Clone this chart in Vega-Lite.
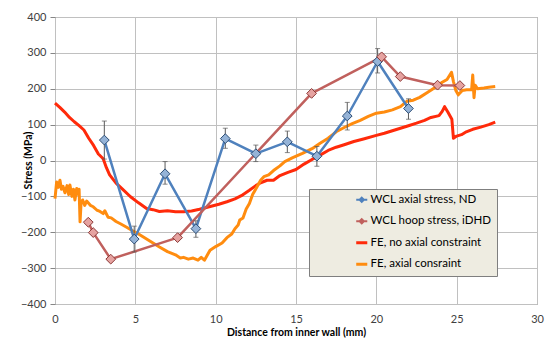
{
  "$schema": "https://vega.github.io/schema/vega-lite/v6.json",
  "width": 482,
  "height": 287,
  "autosize": {"type": "none"},
  "padding": {"left": 55, "top": 17, "right": 11, "bottom": 37},
  "background": "white",
  "config": {
    "font": "Lato",
    "view": {"stroke": "#868686", "strokeWidth": 1},
    "axis": {
      "labelFont": "Lato",
      "labelFontSize": 11,
      "labelColor": "#404040",
      "titleFont": "Lato",
      "titleFontSize": 10.5,
      "titleFontWeight": "bold",
      "titleColor": "#000000",
      "gridColor": "#c0c0c0",
      "gridWidth": 1,
      "domain": false,
      "tickColor": "#868686"
    }
  },
  "datasets": {
    "fe": [
      {"series": "FE, no axial constraint", "x": 0, "y": 160},
      {"series": "FE, no axial constraint", "x": 0.3, "y": 148},
      {"series": "FE, no axial constraint", "x": 0.6, "y": 135},
      {"series": "FE, no axial constraint", "x": 0.9, "y": 120},
      {"series": "FE, no axial constraint", "x": 1.2, "y": 108},
      {"series": "FE, no axial constraint", "x": 1.5, "y": 97},
      {"series": "FE, no axial constraint", "x": 1.8, "y": 85},
      {"series": "FE, no axial constraint", "x": 2.1, "y": 62},
      {"series": "FE, no axial constraint", "x": 2.4, "y": 42},
      {"series": "FE, no axial constraint", "x": 2.7, "y": 18},
      {"series": "FE, no axial constraint", "x": 3.0, "y": 5},
      {"series": "FE, no axial constraint", "x": 3.2, "y": -20},
      {"series": "FE, no axial constraint", "x": 3.4, "y": -40},
      {"series": "FE, no axial constraint", "x": 3.8, "y": -63},
      {"series": "FE, no axial constraint", "x": 4.2, "y": -80},
      {"series": "FE, no axial constraint", "x": 4.7, "y": -101},
      {"series": "FE, no axial constraint", "x": 5.2, "y": -118},
      {"series": "FE, no axial constraint", "x": 5.7, "y": -134},
      {"series": "FE, no axial constraint", "x": 6.1, "y": -137},
      {"series": "FE, no axial constraint", "x": 6.5, "y": -142},
      {"series": "FE, no axial constraint", "x": 7.0, "y": -140},
      {"series": "FE, no axial constraint", "x": 7.5, "y": -143},
      {"series": "FE, no axial constraint", "x": 8.0, "y": -143},
      {"series": "FE, no axial constraint", "x": 8.5, "y": -141},
      {"series": "FE, no axial constraint", "x": 9.0, "y": -136},
      {"series": "FE, no axial constraint", "x": 9.6, "y": -129},
      {"series": "FE, no axial constraint", "x": 10.2, "y": -122},
      {"series": "FE, no axial constraint", "x": 10.7, "y": -115},
      {"series": "FE, no axial constraint", "x": 11.2, "y": -107},
      {"series": "FE, no axial constraint", "x": 11.6, "y": -98},
      {"series": "FE, no axial constraint", "x": 12.1, "y": -83},
      {"series": "FE, no axial constraint", "x": 12.5, "y": -70},
      {"series": "FE, no axial constraint", "x": 12.8, "y": -62},
      {"series": "FE, no axial constraint", "x": 13.2, "y": -55},
      {"series": "FE, no axial constraint", "x": 13.6, "y": -55},
      {"series": "FE, no axial constraint", "x": 14.0, "y": -42},
      {"series": "FE, no axial constraint", "x": 14.5, "y": -33},
      {"series": "FE, no axial constraint", "x": 15.0, "y": -25},
      {"series": "FE, no axial constraint", "x": 15.5, "y": -10},
      {"series": "FE, no axial constraint", "x": 16.0, "y": 3},
      {"series": "FE, no axial constraint", "x": 16.5, "y": 15},
      {"series": "FE, no axial constraint", "x": 17.0, "y": 28},
      {"series": "FE, no axial constraint", "x": 17.5, "y": 37},
      {"series": "FE, no axial constraint", "x": 18.0, "y": 44},
      {"series": "FE, no axial constraint", "x": 18.6, "y": 53},
      {"series": "FE, no axial constraint", "x": 19.2, "y": 60},
      {"series": "FE, no axial constraint", "x": 20.0, "y": 70},
      {"series": "FE, no axial constraint", "x": 20.5, "y": 76},
      {"series": "FE, no axial constraint", "x": 21.0, "y": 83},
      {"series": "FE, no axial constraint", "x": 21.5, "y": 90},
      {"series": "FE, no axial constraint", "x": 22.0, "y": 97},
      {"series": "FE, no axial constraint", "x": 22.5, "y": 104},
      {"series": "FE, no axial constraint", "x": 23.0, "y": 112},
      {"series": "FE, no axial constraint", "x": 23.4, "y": 120},
      {"series": "FE, no axial constraint", "x": 23.9, "y": 125},
      {"series": "FE, no axial constraint", "x": 24.1, "y": 137},
      {"series": "FE, no axial constraint", "x": 24.25, "y": 150},
      {"series": "FE, no axial constraint", "x": 24.45, "y": 135},
      {"series": "FE, no axial constraint", "x": 24.7, "y": 115},
      {"series": "FE, no axial constraint", "x": 24.8, "y": 62},
      {"series": "FE, no axial constraint", "x": 25.0, "y": 68},
      {"series": "FE, no axial constraint", "x": 25.3, "y": 72},
      {"series": "FE, no axial constraint", "x": 25.6, "y": 80},
      {"series": "FE, no axial constraint", "x": 26.0, "y": 87},
      {"series": "FE, no axial constraint", "x": 26.5, "y": 93},
      {"series": "FE, no axial constraint", "x": 27.0, "y": 100},
      {"series": "FE, no axial constraint", "x": 27.4, "y": 107},
      {"series": "FE, axial consraint", "x": 0, "y": -106},
      {"series": "FE, axial consraint", "x": 0.1, "y": -60},
      {"series": "FE, axial consraint", "x": 0.2, "y": -75},
      {"series": "FE, axial consraint", "x": 0.31, "y": -55},
      {"series": "FE, axial consraint", "x": 0.4, "y": -80},
      {"series": "FE, axial consraint", "x": 0.5, "y": -72},
      {"series": "FE, axial consraint", "x": 0.62, "y": -90},
      {"series": "FE, axial consraint", "x": 0.75, "y": -70},
      {"series": "FE, axial consraint", "x": 0.85, "y": -95},
      {"series": "FE, axial consraint", "x": 0.93, "y": -68},
      {"series": "FE, axial consraint", "x": 1.05, "y": -100},
      {"series": "FE, axial consraint", "x": 1.15, "y": -80},
      {"series": "FE, axial consraint", "x": 1.24, "y": -110},
      {"series": "FE, axial consraint", "x": 1.35, "y": -78},
      {"series": "FE, axial consraint", "x": 1.45, "y": -95},
      {"series": "FE, axial consraint", "x": 1.5, "y": -80},
      {"series": "FE, axial consraint", "x": 1.56, "y": -171},
      {"series": "FE, axial consraint", "x": 1.62, "y": -120},
      {"series": "FE, axial consraint", "x": 1.72, "y": -110},
      {"series": "FE, axial consraint", "x": 1.85, "y": -125},
      {"series": "FE, axial consraint", "x": 1.97, "y": -113},
      {"series": "FE, axial consraint", "x": 2.2, "y": -125},
      {"series": "FE, axial consraint", "x": 2.38, "y": -129},
      {"series": "FE, axial consraint", "x": 2.6, "y": -138},
      {"series": "FE, axial consraint", "x": 2.8, "y": -142},
      {"series": "FE, axial consraint", "x": 3.0, "y": -148},
      {"series": "FE, axial consraint", "x": 3.1, "y": -140},
      {"series": "FE, axial consraint", "x": 3.3, "y": -158},
      {"series": "FE, axial consraint", "x": 3.5, "y": -160},
      {"series": "FE, axial consraint", "x": 3.8, "y": -170},
      {"series": "FE, axial consraint", "x": 4.1, "y": -177},
      {"series": "FE, axial consraint", "x": 4.46, "y": -186},
      {"series": "FE, axial consraint", "x": 4.8, "y": -195},
      {"series": "FE, axial consraint", "x": 5.1, "y": -202},
      {"series": "FE, axial consraint", "x": 5.5, "y": -213},
      {"series": "FE, axial consraint", "x": 6.0, "y": -227},
      {"series": "FE, axial consraint", "x": 6.5, "y": -241},
      {"series": "FE, axial consraint", "x": 7.0, "y": -254},
      {"series": "FE, axial consraint", "x": 7.5, "y": -263},
      {"series": "FE, axial consraint", "x": 7.8, "y": -272},
      {"series": "FE, axial consraint", "x": 8.0, "y": -270},
      {"series": "FE, axial consraint", "x": 8.3, "y": -275},
      {"series": "FE, axial consraint", "x": 8.6, "y": -272},
      {"series": "FE, axial consraint", "x": 8.9, "y": -278},
      {"series": "FE, axial consraint", "x": 9.1, "y": -270},
      {"series": "FE, axial consraint", "x": 9.3, "y": -278},
      {"series": "FE, axial consraint", "x": 9.5, "y": -262},
      {"series": "FE, axial consraint", "x": 9.65, "y": -250},
      {"series": "FE, axial consraint", "x": 10.0, "y": -240},
      {"series": "FE, axial consraint", "x": 10.4, "y": -230},
      {"series": "FE, axial consraint", "x": 10.7, "y": -215},
      {"series": "FE, axial consraint", "x": 11.0, "y": -205},
      {"series": "FE, axial consraint", "x": 11.2, "y": -190},
      {"series": "FE, axial consraint", "x": 11.4, "y": -180},
      {"series": "FE, axial consraint", "x": 11.5, "y": -166},
      {"series": "FE, axial consraint", "x": 11.7, "y": -160},
      {"series": "FE, axial consraint", "x": 11.9, "y": -135},
      {"series": "FE, axial consraint", "x": 12.1, "y": -120},
      {"series": "FE, axial consraint", "x": 12.3, "y": -95},
      {"series": "FE, axial consraint", "x": 12.55, "y": -75},
      {"series": "FE, axial consraint", "x": 12.8, "y": -55},
      {"series": "FE, axial consraint", "x": 13.0, "y": -45},
      {"series": "FE, axial consraint", "x": 13.3, "y": -40},
      {"series": "FE, axial consraint", "x": 13.6, "y": -28},
      {"series": "FE, axial consraint", "x": 14.0, "y": -15},
      {"series": "FE, axial consraint", "x": 14.3, "y": -3},
      {"series": "FE, axial consraint", "x": 14.8, "y": 8},
      {"series": "FE, axial consraint", "x": 15.4, "y": 20},
      {"series": "FE, axial consraint", "x": 16.0, "y": 33},
      {"series": "FE, axial consraint", "x": 16.5, "y": 48},
      {"series": "FE, axial consraint", "x": 17.0, "y": 62},
      {"series": "FE, axial consraint", "x": 17.5, "y": 80},
      {"series": "FE, axial consraint", "x": 18.0, "y": 92},
      {"series": "FE, axial consraint", "x": 18.5, "y": 103},
      {"series": "FE, axial consraint", "x": 19.0, "y": 112},
      {"series": "FE, axial consraint", "x": 19.5, "y": 123},
      {"series": "FE, axial consraint", "x": 20.0, "y": 132},
      {"series": "FE, axial consraint", "x": 20.5, "y": 135},
      {"series": "FE, axial consraint", "x": 21.0, "y": 141},
      {"series": "FE, axial consraint", "x": 21.5, "y": 150},
      {"series": "FE, axial consraint", "x": 21.9, "y": 165},
      {"series": "FE, axial consraint", "x": 22.3, "y": 168},
      {"series": "FE, axial consraint", "x": 22.7, "y": 176},
      {"series": "FE, axial consraint", "x": 23.2, "y": 190},
      {"series": "FE, axial consraint", "x": 23.75, "y": 206},
      {"series": "FE, axial consraint", "x": 24.1, "y": 218},
      {"series": "FE, axial consraint", "x": 24.4, "y": 226},
      {"series": "FE, axial consraint", "x": 24.68, "y": 246},
      {"series": "FE, axial consraint", "x": 24.8, "y": 220},
      {"series": "FE, axial consraint", "x": 24.95, "y": 195},
      {"series": "FE, axial consraint", "x": 25.1, "y": 183},
      {"series": "FE, axial consraint", "x": 25.35, "y": 195},
      {"series": "FE, axial consraint", "x": 25.62, "y": 197},
      {"series": "FE, axial consraint", "x": 25.93, "y": 197},
      {"series": "FE, axial consraint", "x": 26.0, "y": 238},
      {"series": "FE, axial consraint", "x": 26.08, "y": 175},
      {"series": "FE, axial consraint", "x": 26.15, "y": 210},
      {"series": "FE, axial consraint", "x": 26.3, "y": 200},
      {"series": "FE, axial consraint", "x": 26.7, "y": 202},
      {"series": "FE, axial consraint", "x": 27.0, "y": 204},
      {"series": "FE, axial consraint", "x": 27.4, "y": 206}
    ],
    "wcl": [
      {"series": "WCL axial stress, ND", "x": 3.07, "y": 57, "lo": 4, "hi": 110},
      {"series": "WCL axial stress, ND", "x": 4.93, "y": -219, "lo": -255, "hi": -183},
      {"series": "WCL axial stress, ND", "x": 6.85, "y": -37, "lo": -66, "hi": -3},
      {"series": "WCL axial stress, ND", "x": 8.77, "y": -190, "lo": -214, "hi": -168},
      {"series": "WCL axial stress, ND", "x": 10.6, "y": 61, "lo": 34, "hi": 90},
      {"series": "WCL axial stress, ND", "x": 12.5, "y": 19, "lo": -3, "hi": 43},
      {"series": "WCL axial stress, ND", "x": 14.46, "y": 52, "lo": 22, "hi": 82},
      {"series": "WCL axial stress, ND", "x": 16.3, "y": 12, "lo": -16, "hi": 39},
      {"series": "WCL axial stress, ND", "x": 18.19, "y": 124, "lo": 85, "hi": 162},
      {"series": "WCL axial stress, ND", "x": 20.08, "y": 276, "lo": 244, "hi": 312},
      {"series": "WCL axial stress, ND", "x": 22.0, "y": 145, "lo": 115, "hi": 172},
      {"series": "WCL hoop stress, iDHD", "x": 2.07, "y": -172},
      {"series": "WCL hoop stress, iDHD", "x": 2.38, "y": -201},
      {"series": "WCL hoop stress, iDHD", "x": 3.47, "y": -275},
      {"series": "WCL hoop stress, iDHD", "x": 7.63, "y": -215},
      {"series": "WCL hoop stress, iDHD", "x": 15.97, "y": 187},
      {"series": "WCL hoop stress, iDHD", "x": 20.33, "y": 289},
      {"series": "WCL hoop stress, iDHD", "x": 21.49, "y": 234},
      {"series": "WCL hoop stress, iDHD", "x": 23.81, "y": 210},
      {"series": "WCL hoop stress, iDHD", "x": 25.2, "y": 209}
    ]
  },
  "encoding": {
    "x": {
      "field": "x",
      "type": "quantitative",
      "title": "Distance from inner wall (mm)",
      "scale": {"domain": [0, 30], "nice": false, "zero": false},
      "axis": {"values": [0, 5, 10, 15, 20, 25, 30], "tickSize": 0, "labelPadding": 9, "titlePadding": 3, "labelFlush": false}
    },
    "y": {
      "field": "y",
      "type": "quantitative",
      "title": "Stress (MPa)",
      "scale": {"domain": [-400, 400], "nice": false, "zero": false},
      "axis": {"values": [-400, -300, -200, -100, 0, 100, 200, 300, 400], "tickSize": 5, "labelPadding": 4, "titleX": -22, "titleY": 143, "labelFlush": false}
    }
  },
  "layer": [
    {
      "data": {"name": "fe"},
      "mark": {"type": "line", "strokeWidth": 3, "strokeJoin": "round"},
      "encoding": {
        "color": {
          "field": "series",
          "type": "nominal",
          "scale": {
            "domain": ["WCL axial stress, ND", "WCL hoop stress, iDHD", "FE, no axial constraint", "FE, axial consraint"],
            "range": ["#4f81bd", "#c0605d", "#ff2a0a", "#ff8c0f"]
          },
          "legend": {
            "title": null,
            "orient": "none",
            "legendX": 254,
            "legendY": 172,
            "fillColor": "#eeece1",
            "strokeColor": "#7f7f7f",
            "padding": 5,
            "symbolOffset": 42,
            "symbolSize": 289,
            "symbolType": "stroke",
            "symbolStrokeWidth": 2.5,
            "labelOffset": 3,
            "rowPadding": 8.5,
            "labelFont": "Lato",
            "labelFontSize": 11.5,
            "labelColor": "#000000",
            "labelLimit": 500,
            "labelExpr": "datum.label + '\u2003\u2003\u2003'",
            "encode": {
              "symbols": {
                "update": {
                  "shape": {"signal": "datum.index < 2 ? 'M-0.65,0L0.65,0M0,-0.25L0.25,0L0,0.25L-0.25,0Z' : 'M-0.65,0L0.65,0'"},
                  "fill": {"signal": "datum.index === 0 ? '#95b3d7' : datum.index === 1 ? '#e6a3a1' : 'transparent'"},
                  "strokeWidth": {"signal": "datum.index < 2 ? 2 : 3"}
                }
              }
            }
          }
        }
      }
    },
    {
      "data": {"name": "wcl"},
      "mark": {"type": "line", "strokeWidth": 2.5, "strokeJoin": "round"},
      "encoding": {
        "color": {"field": "series", "type": "nominal"}
      }
    },
    {
      "data": {"name": "wcl"},
      "transform": [{"filter": "isValid(datum.lo)"}],
      "mark": {"type": "rule", "color": "#595959", "strokeWidth": 1},
      "encoding": {
        "y": {"field": "lo", "type": "quantitative"},
        "y2": {"field": "hi"}
      }
    },
    {
      "data": {"name": "wcl"},
      "transform": [{"filter": "isValid(datum.lo)"}],
      "mark": {"type": "tick", "color": "#595959", "orient": "horizontal", "size": 5, "thickness": 1},
      "encoding": {
        "y": {"field": "lo", "type": "quantitative"}
      }
    },
    {
      "data": {"name": "wcl"},
      "transform": [{"filter": "isValid(datum.hi)"}],
      "mark": {"type": "tick", "color": "#595959", "orient": "horizontal", "size": 5, "thickness": 1},
      "encoding": {
        "y": {"field": "hi", "type": "quantitative"}
      }
    },
    {
      "data": {"name": "wcl"},
      "mark": {"type": "point", "shape": "diamond", "size": 95, "filled": true, "strokeWidth": 1, "opacity": 1},
      "encoding": {
        "fill": {
          "field": "series",
          "type": "nominal",
          "scale": {"domain": ["WCL axial stress, ND", "WCL hoop stress, iDHD"], "range": ["#95b3d7", "#e6a3a1"]},
          "legend": null
        },
        "stroke": {
          "field": "series",
          "type": "nominal",
          "scale": {"domain": ["WCL axial stress, ND", "WCL hoop stress, iDHD"], "range": ["#2c4d75", "#8c3836"]},
          "legend": null
        }
      }
    }
  ]
}
